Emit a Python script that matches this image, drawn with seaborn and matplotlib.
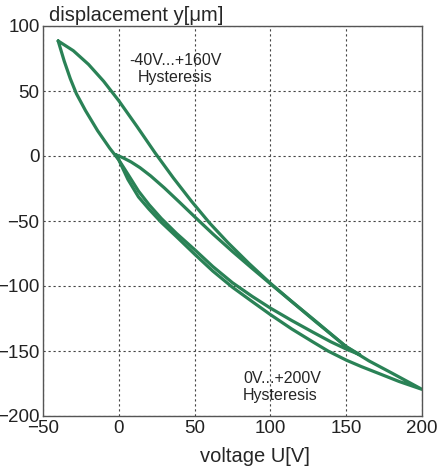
import matplotlib
matplotlib.use("Agg")
import matplotlib.pyplot as plt
import pandas as pd
import seaborn as sns

# loop 1: -40V...+160V, down the upper branch, back up the lower branch
a_volt = [-40, -30, -20, -10, 0, 12, 24, 36, 48, 60, 72, 86, 100, 113, 130, 150, 159,
          150, 140, 128, 114, 100, 88, 75, 62, 50, 38, 28, 20, 13, 6, 0, -6, -14, -22, -28, -32, -36, -40]
a_disp = [88.5, 81, 70.5, 57.5, 42.5, 22.7, 2.3, -16.9, -34.9, -51.7, -66.7, -82.8, -97.9, -110.9, -127.6, -146.6, -152.9,
          -148.5, -143, -135.5, -126.5, -117, -108, -97.5, -85, -72, -59.5, -48, -37.5, -27, -14, -3, 6, 19.5, 35, 48, 59.5, 73, 88.5]

# loop 2: 0V...+200V
b_volt = [-2, 3, 8, 14, 21, 30, 40, 50, 62, 75, 88, 100, 113, 130, 150, 165, 180, 200,
          185, 172, 160, 150, 138, 128, 114, 100, 88, 75, 62, 50, 38, 28, 20, 13, 6, 2, 0, -2]
b_disp = [1, -1.5, -4.5, -9, -15.3, -24.5, -35.5, -46.7, -59.9, -73.5, -86.5, -98.3, -110.9, -127.2, -146.8, -157.6, -166.9, -179.5,
          -173.5, -167.5, -162, -157, -150, -143, -133, -122, -112, -101, -88.5, -75.5, -62, -51, -41, -31.5, -18, -8, -3, 1]

x_ticks = [-50, 0, 50, 100, 150, 200]
y_ticks = [-200, -150, -100, -50, 0, 50, 100]

sns.set_theme(style="white")
plt.rcParams["font.family"] = ["Liberation Sans", "DejaVu Sans"]

df = pd.concat([
    pd.DataFrame({"U": a_volt, "y": a_disp, "loop": "A"}),
    pd.DataFrame({"U": b_volt, "y": b_disp, "loop": "B"}),
], ignore_index=True)

fig = plt.figure(figsize=(4.39, 4.69), dpi=100)
ax = fig.add_axes([43 / 439, 1 - 416 / 469, 379 / 439, 390 / 469])
sns.lineplot(data=df, x="U", y="y", units="loop", estimator=None, sort=False,
             color="#2a8256", lw=2.3, ax=ax)

ax.set_xlim(-50, 200)
ax.set_ylim(-200, 100)
ax.set_xticks(x_ticks)
ax.set_yticks(y_ticks)
ax.set_xlabel("")
ax.set_ylabel("")
ax.grid(True, color="#444444", ls=(0, (2, 2.5)), lw=0.8)
ax.tick_params(direction="in", length=3, labelsize=13.5, colors="#222222")
ax.tick_params(axis="x", pad=3)
ax.tick_params(axis="y", pad=2.5)
for s in ax.spines.values():
    s.set_color("#555555")
    s.set_linewidth(1.0)

ax.text(37.4, 70, "-40V...+160V", ha="center", va="baseline", fontsize=11.5)
ax.text(37.1, 57.2, "Hysteresis", ha="center", va="baseline", fontsize=11.5)
ax.text(81.9, -174.6, "0V...+200V", ha="left", va="baseline", fontsize=11.5)
ax.text(81.9, -188, "Hysteresis", ha="left", va="baseline", fontsize=11.5)

fig.text(49 / 439, 1 - 21 / 469, "displacement y[μm]", va="baseline", fontsize=14.5)
fig.text(254.5 / 439, 1 - 462 / 469, "voltage U[V]", ha="center", va="baseline", fontsize=14.5)

fig.savefig("out.png", dpi=100)
